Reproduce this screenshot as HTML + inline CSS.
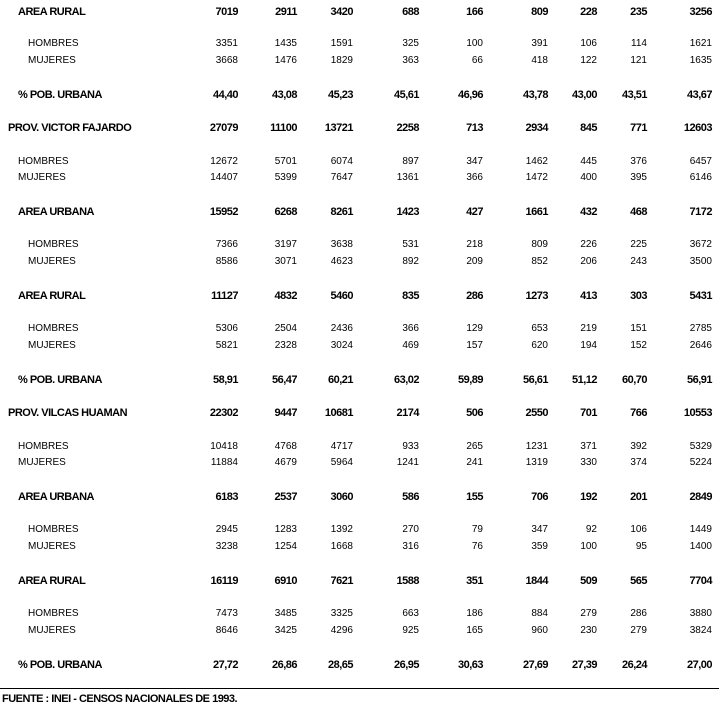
<!DOCTYPE html>
<html><head><meta charset="utf-8"><style>
body{margin:0;width:719px;height:706px;background:#fff;position:relative;overflow:hidden;font-family:"Liberation Sans",Arial,sans-serif;color:#000}
.r{position:absolute;left:0;width:719px;height:14px}
.r span{position:absolute;top:0;white-space:nowrap;line-height:14px}
.b{font-weight:bold;font-size:11px;letter-spacing:-0.5px}
.n{font-size:10px}
</style></head><body>
<div id="t"></div>
<div style="position:absolute;left:0;top:688px;width:719px;height:1px;background:#000"></div>
<div style="position:absolute;left:2px;top:692px;font-size:11px;font-weight:bold;line-height:14px;letter-spacing:-0.5px">FUENTE : INEI - CENSOS NACIONALES DE 1993.</div>
<script>
const ends=[238,297,353,419,483,548,597,647,712];
const rows=[
[12,'b',18,'AREA RURAL','7019 2911 3420 688 166 809 228 235 3256'],
[44,'n',28,'HOMBRES','3351 1435 1591 325 100 391 106 114 1621'],
[61,'n',28,'MUJERES','3668 1476 1829 363 66 418 122 121 1635'],
[95,'b',18,'% POB. URBANA','44,40 43,08 45,23 45,61 46,96 43,78 43,00 43,51 43,67'],
[128,'b',8,'PROV. VICTOR FAJARDO','27079 11100 13721 2258 713 2934 845 771 12603'],
[162,'n',18,'HOMBRES','12672 5701 6074 897 347 1462 445 376 6457'],
[178,'n',18,'MUJERES','14407 5399 7647 1361 366 1472 400 395 6146'],
[212,'b',18,'AREA URBANA','15952 6268 8261 1423 427 1661 432 468 7172'],
[245,'n',28,'HOMBRES','7366 3197 3638 531 218 809 226 225 3672'],
[262,'n',28,'MUJERES','8586 3071 4623 892 209 852 206 243 3500'],
[296,'b',18,'AREA RURAL','11127 4832 5460 835 286 1273 413 303 5431'],
[329,'n',28,'HOMBRES','5306 2504 2436 366 129 653 219 151 2785'],
[346,'n',28,'MUJERES','5821 2328 3024 469 157 620 194 152 2646'],
[380,'b',18,'% POB. URBANA','58,91 56,47 60,21 63,02 59,89 56,61 51,12 60,70 56,91'],
[413,'b',8,'PROV. VILCAS HUAMAN','22302 9447 10681 2174 506 2550 701 766 10553'],
[447,'n',18,'HOMBRES','10418 4768 4717 933 265 1231 371 392 5329'],
[463,'n',18,'MUJERES','11884 4679 5964 1241 241 1319 330 374 5224'],
[497,'b',18,'AREA URBANA','6183 2537 3060 586 155 706 192 201 2849'],
[530,'n',28,'HOMBRES','2945 1283 1392 270 79 347 92 106 1449'],
[547,'n',28,'MUJERES','3238 1254 1668 316 76 359 100 95 1400'],
[581,'b',18,'AREA RURAL','16119 6910 7621 1588 351 1844 509 565 7704'],
[614,'n',28,'HOMBRES','7473 3485 3325 663 186 884 279 286 3880'],
[631,'n',28,'MUJERES','8646 3425 4296 925 165 960 230 279 3824'],
[665,'b',18,'% POB. URBANA','27,72 26,86 28,65 26,95 30,63 27,69 27,39 26,24 27,00']];
let h='';
for(const [y,c,x,lab,vals] of rows){
h+=`<div class="r ${c}" style="top:${y-7}px"><span style="left:${x}px">${lab}</span>`;
vals.split(' ').forEach((v,i)=>{h+=`<span style="right:${719-ends[i]}px">${v}</span>`});
h+='</div>';}
document.getElementById('t').innerHTML=h;
</script>
</body></html>
